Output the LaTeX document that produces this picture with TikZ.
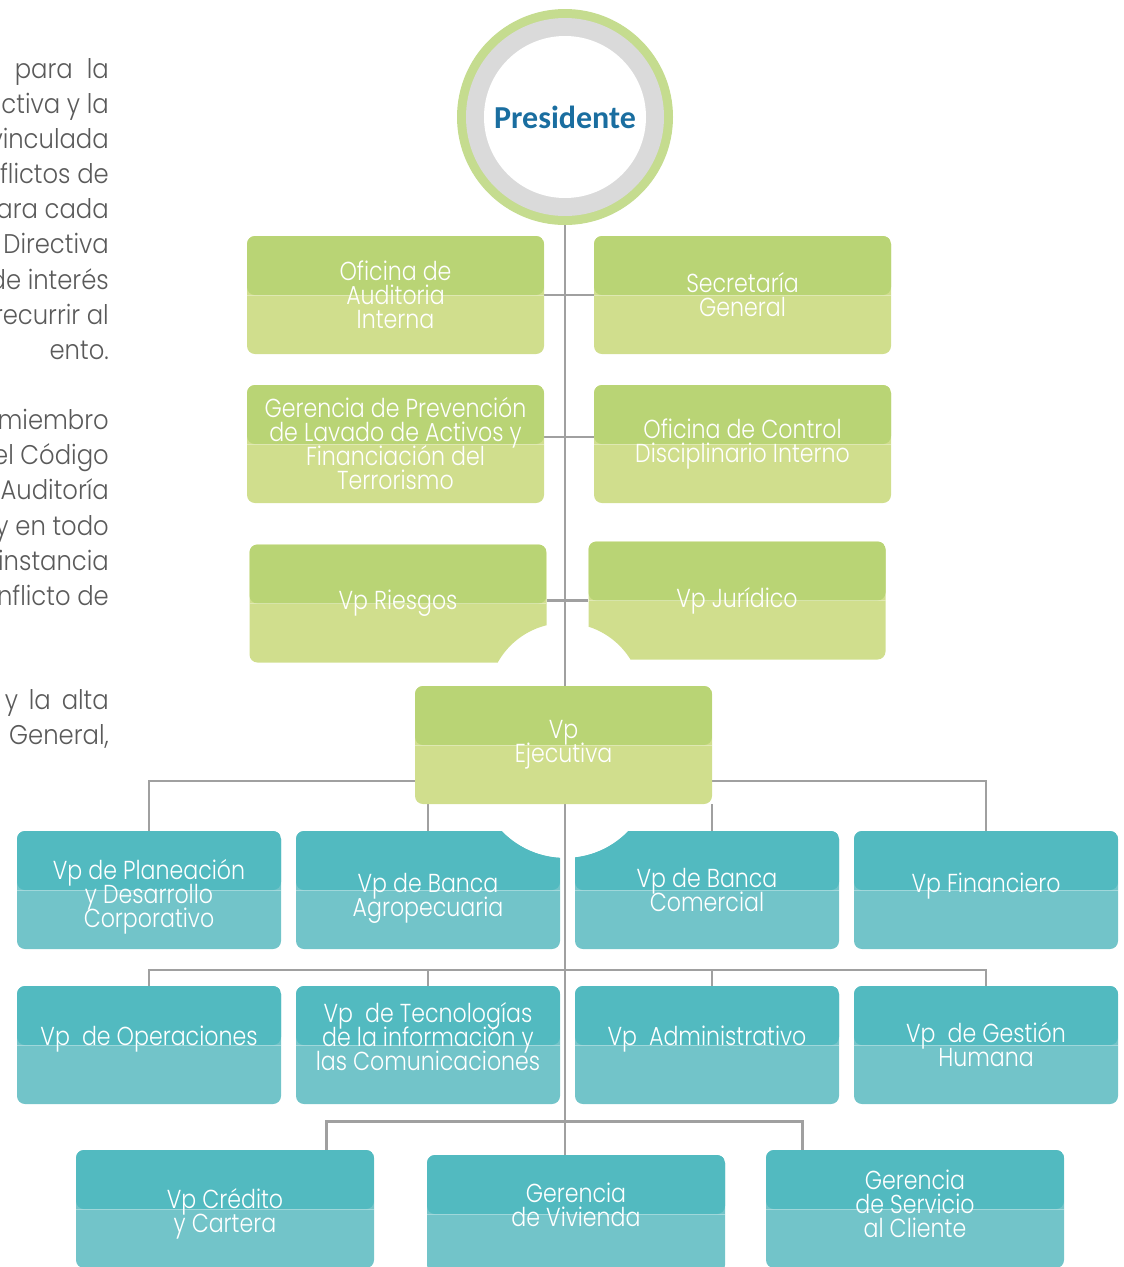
\documentclass[tikz,border=0pt]{standalone}
\usepackage{fontspec}
\setmainfont{Carlito}
\newfontfamily\thinfont[FakeStretch=0.85]{Poppins Light}
\newfontfamily\sidefont[FakeStretch=0.9]{Poppins Light}
\newcommand\boxtextfont{\thinfont\fontsize{26}{24}\selectfont\setlength\lineskiplimit{-40pt}}
\usetikzlibrary{backgrounds}
\definecolor{grTop}{RGB}{185,212,117}
\definecolor{grBot}{RGB}{208,222,141}
\definecolor{blTop}{RGB}{82,186,192}
\definecolor{blBot}{RGB}{114,196,201}
\definecolor{ringGreen}{RGB}{197,220,143}
\definecolor{ringGray}{RGB}{218,218,218}
\definecolor{presBlue}{RGB}{26,110,160}
\definecolor{lineGray}{RGB}{160,160,160}
\definecolor{txtGray}{RGB}{90,90,90}
\tikzset{
  twotone/.style 2 args={rectangle, rounded corners=8pt, fill=#2, text=white,
    align=center, inner sep=0pt, font=\boxtextfont,
    path picture={
      \fill[#1] (path picture bounding box.north west) rectangle (path picture bounding box.east);
      \draw[white, opacity=0.35, line width=0.8pt] (path picture bounding box.west) -- (path picture bounding box.east);}},
  greenbox/.style={twotone={grTop}{grBot}, minimum width=297pt, minimum height=118pt},
  bluebox/.style={twotone={blTop}{blBot}, minimum width=264pt, minimum height=118pt},
  presnode/.style={circle, fill=white, minimum size=162pt, inner sep=0pt,
    text=presBlue, font=\bfseries\fontsize{32}{32}\selectfont}
}
\begin{document}
\begin{tikzpicture}[x=1pt, y=-1pt,
    conn/.style={draw=lineGray, line width=2.5pt},
    lefttext/.style={anchor=base east, inner sep=0pt, text=txtGray,
      font=\sidefont\fontsize{27}{27}\selectfont}]
  \useasboundingbox (0,0) rectangle (1124,1267);
  \clip (0,0) rectangle (1124,1267);

  \node[lefttext] (l1) at (109,78) {\makebox[94pt][s]{para la}};
  \node[lefttext] (l2) at (109,113) {ctiva y la};
  \node[lefttext] (l3) at (109,148) {vinculada};
  \node[lefttext] (l4) at (109,183) {flictos de};
  \node[lefttext] (l5) at (109,218) {para cada};
  \node[lefttext] (l6) at (109,253) {Directiva};
  \node[lefttext] (l7) at (109,289) {de interés};
  \node[lefttext] (l8) at (109,324) {recurrir al};
  \node[lefttext] (l9) at (109,359) {ento.};
  \node[lefttext] (l10) at (109,429) {miembro};
  \node[lefttext] (l11) at (109,464) {el Código};
  \node[lefttext] (l12) at (109,499) {Auditoría};
  \node[lefttext] (l13) at (109,535) {y en todo};
  \node[lefttext] (l14) at (109,570) {instancia};
  \node[lefttext] (l15) at (109,605) {nflicto de};
  \node[lefttext] (l16) at (109,709) {\makebox[104pt][s]{y la alta}};
  \node[lefttext] (l17) at (109,744) {General,};

  \fill[ringGreen] (565,117) circle[radius=108pt];
  \fill[ringGray] (565,117) circle[radius=99pt];
  \node[presnode] (pres) at (565,117) {Presidente};

  \node[greenbox] (audit) at (395.5,295) {Oficina de\\Auditoria\\Interna};
  \node[greenbox] (secre) at (742.5,295) {Secretaría\\General};
  \node[greenbox] (prev) at (395.5,444) {Gerencia de Prevención\\de Lavado de Activos y\\Financiación del\\Terrorismo};
  \node[greenbox] (ctrl) at (742.5,444) {Oficina de Control\\Disciplinario Interno};
  \begin{scope}[even odd rule]
    \clip (0,0) rectangle (1124,1267) (565,700) circle[radius=77pt];
    \node[greenbox] (ries) at (398,603.5) {Vp Riesgos};
    \node[greenbox] (jur) at (737,600.5) {Vp Jurídico};
  \end{scope}
  \node[greenbox] (ejec) at (563.5,745) {Vp\\Ejecutiva};

  \node[bluebox] (plan) at (149,890) {\mbox{}\\[10pt]Vp de Planeación\\y Desarrollo\\Corporativo};
  \begin{scope}[even odd rule]
    \clip (0,0) rectangle (1124,1267) (565,770) circle[radius=88pt];
    \node[bluebox] (agro) at (428,890) {\mbox{}\\[12pt]Vp de Banca\\Agropecuaria};
    \node[bluebox] (com) at (707,890) {Vp de Banca\\Comercial};
  \end{scope}
  \node[bluebox] (fin) at (986,890) {Vp Financiero\\[-10pt]};

  \node[bluebox] (oper) at (149,1045) {Vp\ \ de Operaciones\\[-6pt]};
  \node[bluebox] (tec) at (428,1045) {Vp\ \ de Tecnologías\\de la información y\\las Comunicaciones\\[-6pt]};
  \node[bluebox] (adm) at (707,1045) {Vp\ \ Administrativo\\[-6pt]};
  \node[bluebox] (gest) at (986,1045) {Vp\ \ de Gestión\\Humana};

  \node[bluebox, minimum width=298pt] (cred) at (225,1209) {\mbox{}\\[6pt]Vp Crédito\\y Cartera};
  \node[bluebox, minimum width=298pt] (viv) at (576,1214) {Gerencia\\de Vivienda\\[-6pt]};
  \node[bluebox, minimum width=298pt] (serv) at (915,1209) {Gerencia\\de Servicio\\al Cliente\\[-14pt]};

  \coordinate (t3l) at (326,1121);
  \coordinate (t3r) at (802,1121);
  \begin{scope}[on background layer]
    \draw[conn] (pres) -- (viv.north -| pres);
    \draw[conn] (audit.east) -- (secre.west);
    \draw[conn] ([yshift=7pt]prev.east) -- ([yshift=7pt]ctrl.west);
    \draw[conn] (jur.west) -- (jur.west -| ries.east);
    \draw[conn] (plan.north) -- ++(0,-50) -| (fin.north);
    \draw[conn] (agro.north) -- ++(0,-50);
    \draw[conn] (ejec.south east) -- (ejec.south east |- com.north);
    \draw[conn] (oper.north) -- ++(0,-16) -| (gest.north);
    \draw[conn] (tec.north) -- ++(0,-16);
    \draw[conn] ([xshift=5pt]adm.north) -- ++(0,-16);
    \draw[conn, line width=3pt] (cred.north -| t3l) -- (t3l) -- (t3r) -- (serv.north -| t3r);
  \end{scope}
\end{tikzpicture}
\end{document}
